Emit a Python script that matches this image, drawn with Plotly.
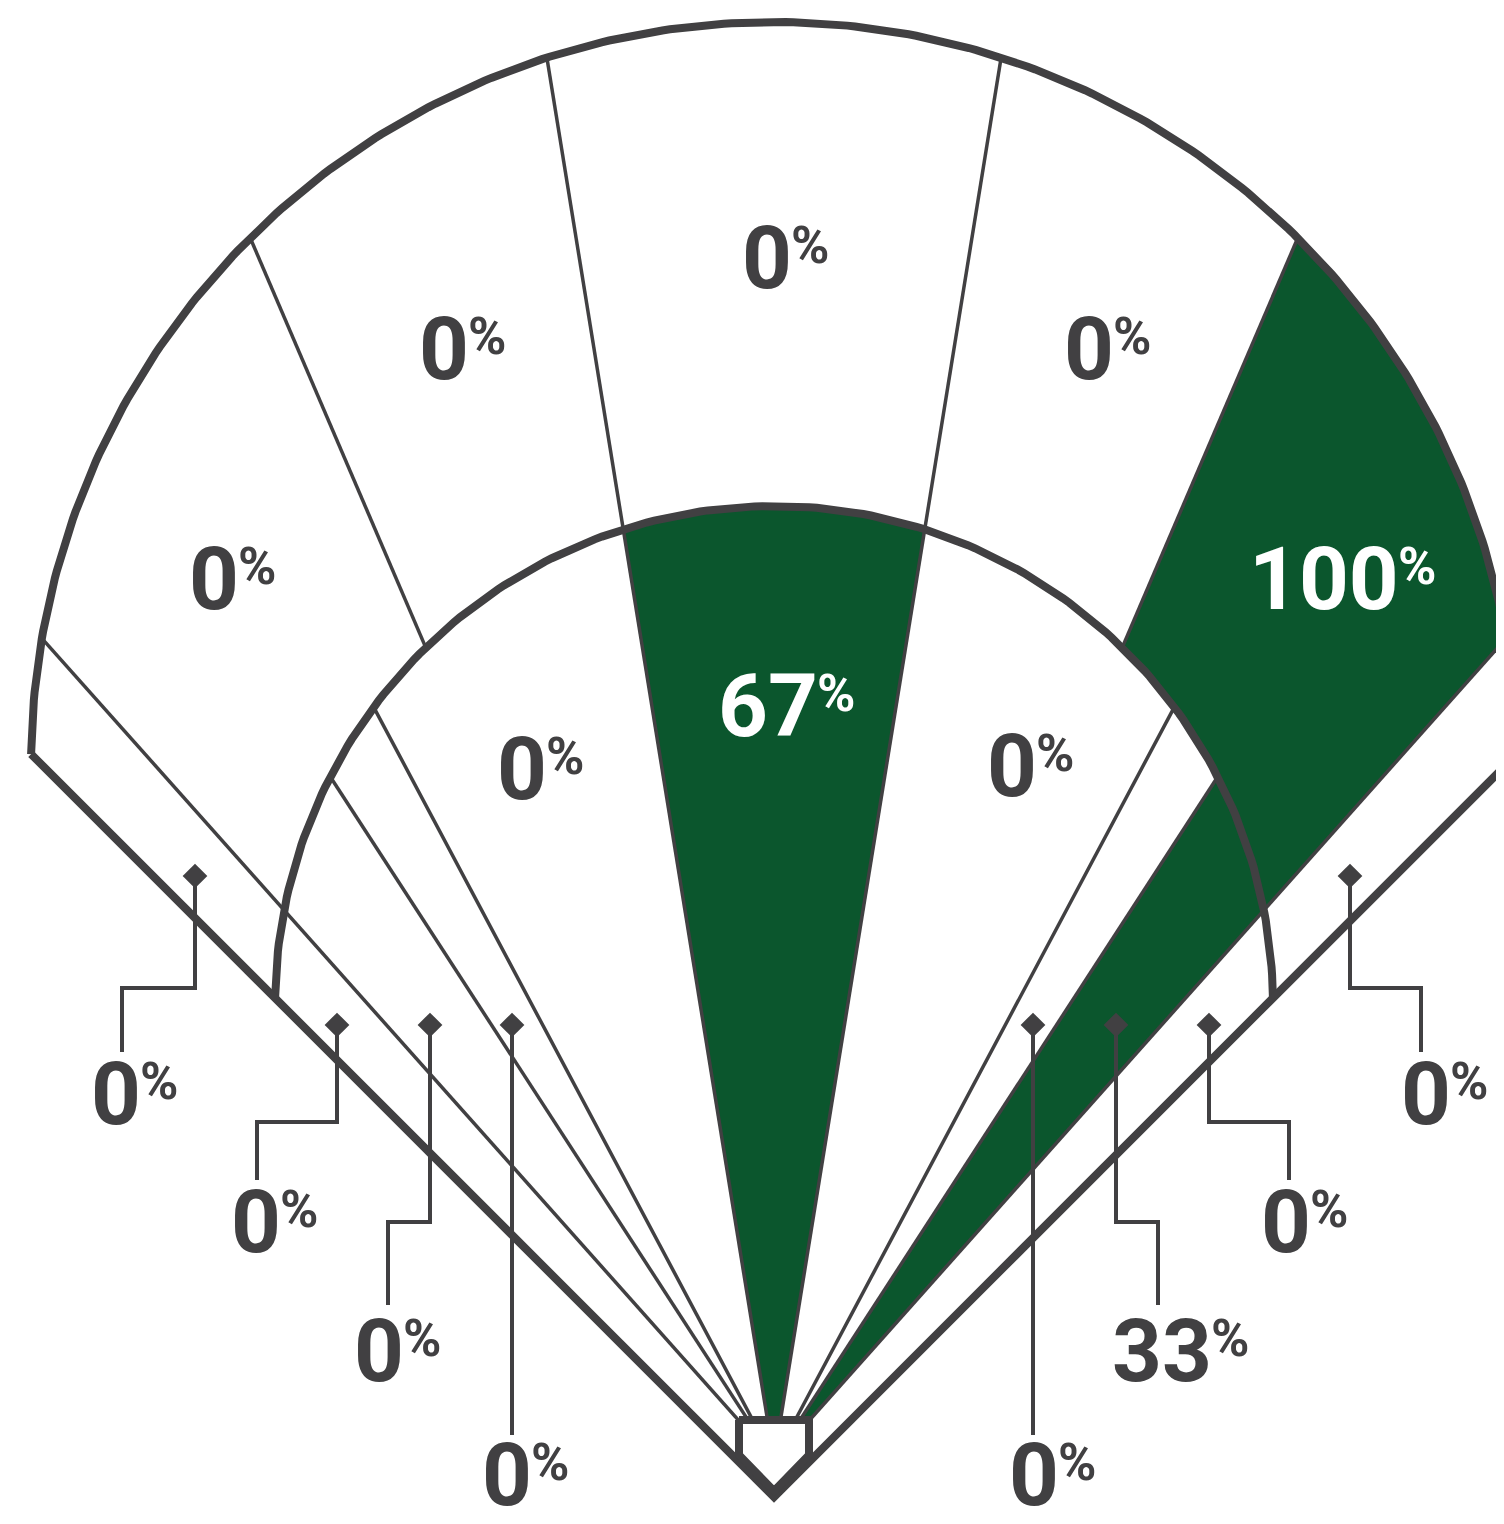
import numpy as np
import plotly.graph_objects as go

# share of batted balls landing in each zone (percent)
outer_zones = ["LF line", "LF", "LCF", "CF", "RCF", "RF", "RF line"]
outer_pct = [0, 0, 0, 0, 0, 100, 0]
inner_zones = ["3B line", "3B-SS", "SS hole", "SS", "Up middle", "2B", "2B hole", "1B", "1B line"]
inner_pct = [0, 0, 0, 0, 67, 0, 0, 33, 0]

# zone edges in degrees from dead center (left field negative, +-45 = foul lines)
outer_edges = [-45, -41.7, -23.2, -9.2, 9.2, 23.2, 41.7, 45]
inner_edges = [-45, -41.7, -33, -28, -9.2, 9.2, 28, 33, 41.7, 45]

GRAY = "#414042"
GREEN = "#0b562d"
W, H = 1504, 1524
PAD = 8   # page body margin, the plot area is shifted by this much
FONT = "Roboto"

# ---- field geometry, pixel space (y down) ----
HOME = np.array([774.0, 1460.0])   # spray lines start here
TIP = np.array([774.0, 1497.0])    # back tip of plate, foul lines start here
FENCE = (np.array([774.0, 765.0]), 743.0)
INFIELD = (np.array([774.0, 1005.0]), 499.0)

# where each zone's label goes: 'at' = (x where number ends, y of digit top)
# zones with a 'pin' get a diamond and an elbow leader down to the label
outer_labels = [
    dict(pin=(195, 876), bend=[(195, 988), (122, 988), (122, 1052)], at=(139, 1063)),
    dict(at=(237, 548)),
    dict(at=(467, 318)),
    dict(at=(790, 227)),
    dict(at=(1112, 318)),
    dict(at=(1397, 548)),
    dict(pin=(1350, 876), bend=[(1350, 988), (1421, 988), (1421, 1052)], at=(1449, 1063)),
]
inner_labels = [
    dict(pin=(337, 1025), bend=[(337, 1122), (257, 1122), (257, 1180)], at=(279, 1191)),
    dict(pin=(430, 1025), bend=[(430, 1222), (388, 1222), (388, 1305)], at=(402, 1320)),
    dict(pin=(512, 1025), bend=[(512, 1435)], at=(530, 1444)),
    dict(at=(545, 738)),
    dict(at=(816, 675)),
    dict(at=(1035, 735)),
    dict(pin=(1033, 1025), bend=[(1033, 1435)], at=(1057, 1444)),
    dict(pin=(1116, 1025), bend=[(1116, 1222), (1158, 1222), (1158, 1305)], at=(1210, 1320)),
    dict(pin=(1209, 1025), bend=[(1209, 1122), (1289, 1122), (1289, 1180)], at=(1309, 1191)),
]


def ray(a):
    org = TIP if abs(a) == 45 else HOME
    r = np.radians(a)
    return org, np.array([np.sin(r), -np.cos(r)])


def hit(a, circ):
    org, d = ray(a)
    c, R = circ
    f = org - c
    b = np.dot(f, d)
    t = -b + np.sqrt(b * b - (np.dot(f, f) - R * R))
    return org + t * d


def arc(circ, p1, p2, n=90):
    c, R = circ
    a1 = np.arctan2(p1[1] - c[1], p1[0] - c[0])
    a2 = np.arctan2(p2[1] - c[1], p2[0] - c[0])
    if a1 > a2:
        a1 -= 2 * np.pi
    t = np.linspace(a1, a2, n)
    return np.column_stack([c[0] + R * np.cos(t), c[1] + R * np.sin(t)])


def zone(a1, a2, inner, outer):
    top = arc(outer, hit(a1, outer), hit(a2, outer))
    if inner is None:
        bottom = np.array([ray(a2)[0], ray(a1)[0]])
    else:
        bottom = arc(inner, hit(a1, inner), hit(a2, inner))[::-1]
    return np.vstack([top, bottom])


def path(pts, width):
    pts = np.asarray(pts)
    return go.Scatter(x=pts[:, 0], y=pts[:, 1], mode="lines",
                      line=dict(color=GRAY, width=width),
                      hoverinfo="skip", showlegend=False)


fig = go.Figure()

# zone fills
for edges, pct, inner, outer in [(outer_edges, outer_pct, INFIELD, FENCE),
                                 (inner_edges, inner_pct, None, INFIELD)]:
    for a1, a2, v in zip(edges[:-1], edges[1:], pct):
        p = zone(a1, a2, inner, outer)
        fig.add_trace(go.Scatter(x=p[:, 0], y=p[:, 1], mode="none", fill="toself",
                                 fillcolor=GREEN if v > 0 else "white",
                                 hoverinfo="skip", showlegend=False))

# thin spray lines: (angle, start, end)
spray = [(9.2, None, FENCE), (23.2, INFIELD, FENCE), (28, None, INFIELD),
         (33, None, INFIELD), (41.7, None, FENCE)]
for a, start, end in spray:
    for s in (-1, 1):
        p0 = ray(s * a)[0] if start is None else hit(s * a, start)
        fig.add_trace(path([p0, hit(s * a, end)], 3.5))

# fence, infield arc, foul lines
fig.add_trace(path(arc(FENCE, hit(-45, FENCE), hit(45, FENCE), 300), 8))
fig.add_trace(path(arc(INFIELD, hit(-45, INFIELD), hit(45, INFIELD), 200), 8))
fig.add_trace(path([hit(-45, FENCE), TIP, hit(45, FENCE)], 8))

# home plate
pw, ptop, pside, ptip = 35, 1420, 1455, 1491
plate = np.array([[774 - pw, ptop], [774 + pw, ptop], [774 + pw, pside],
                  [774, ptip], [774 - pw, pside], [774 - pw, ptop]])
fig.add_trace(go.Scatter(x=plate[:, 0], y=plate[:, 1], mode="lines", fill="toself",
                         fillcolor="white", line=dict(color=GRAY, width=8),
                         hoverinfo="skip", showlegend=False))

# labels
for pct, labels in [(outer_pct, outer_labels), (inner_pct, inner_labels)]:
    for v, lab in zip(pct, labels):
        color = GRAY
        if "pin" in lab:
            fig.add_trace(path([lab["pin"]] + lab["bend"], 4))
            fig.add_trace(go.Scatter(x=[lab["pin"][0]], y=[lab["pin"][1]], mode="markers",
                                     marker=dict(symbol="diamond", size=19, color=GRAY),
                                     hoverinfo="skip", showlegend=False))
        elif v > 0:
            color = "white"
        x, y = lab["at"]
        fig.add_annotation(x=x + 4, y=y + 31, text=str(v), showarrow=False,
                           xanchor="right", yanchor="middle",
                           font=dict(family=FONT, size=87, color=color, weight="bold"))
        fig.add_annotation(x=x - 1, y=y + 18, text="%", showarrow=False,
                           xanchor="left", yanchor="middle",
                           font=dict(family=FONT, size=52, color=color, weight="bold"))

fig.update_layout(width=W - PAD, height=H - PAD, margin=dict(l=0, r=0, t=0, b=0),
                  paper_bgcolor="white", plot_bgcolor="white",
                  xaxis=dict(range=[PAD, W], visible=False, fixedrange=True),
                  yaxis=dict(range=[H, PAD], visible=False, fixedrange=True),
                  showlegend=False, hovermode=False)

fig.write_html("out.html")
